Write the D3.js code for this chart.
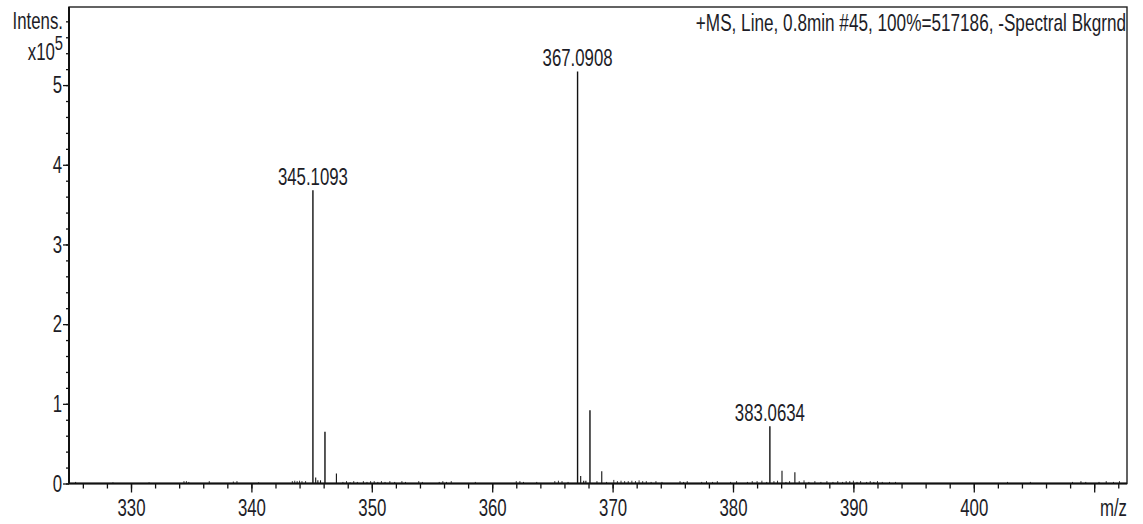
<!DOCTYPE html>
<html>
<head>
<meta charset="utf-8">
<script src="https://cdn.jsdelivr.net/npm/d3@7"></script>
<style>
  html, body { margin: 0; padding: 0; background: #fff; }
  svg { display: block; }
  text { font-family: "Liberation Sans", Arial, sans-serif; fill: #1d1d27; }
</style>
</head>
<body>
<svg id="chart" width="1143" height="524"></svg>
<script>
// Mass spectrum: +MS, 0.8 min scan #45 (intensity in units of 10^5)
const titleText = "+MS, Line, 0.8min #45, 100%=517186, -Spectral Bkgrnd";

// Main and isotope peaks
const peakMz        = [345.1093, 345.34, 345.52, 345.74, 346.11, 347.06,
                       367.0908, 367.35, 367.60, 367.78, 368.12, 369.10,
                       383.0634, 384.07, 385.14];
const peakIntensity = [3.68, 0.075, 0.04, 0.04, 0.65, 0.125,
                       5.17186, 0.095, 0.035, 0.035, 0.92, 0.155,
                       0.72, 0.16, 0.14];

// Annotated peaks
const labelMz     = [345.1093, 367.0908, 383.0634];
const labelText   = ["345.1093", "367.0908", "383.0634"];
const labelHeight = [3.68, 5.17186, 0.72];

// Baseline noise lines
const noiseMz = [325.4, 328.5, 331.5, 334.4, 334.6, 334.8, 336.5, 338.5, 338.8, 340.6,
  343.4, 343.6, 343.8, 344.0, 344.2, 344.5,
  347.6, 347.9, 348.2, 348.5, 348.8, 349.3, 349.6, 349.9, 350.2, 350.5, 350.8, 351.1,
  351.5, 351.9, 352.5, 352.8, 353.9, 354.2, 355.6, 355.9, 356.2, 356.6, 358.6,
  362.0, 362.3, 362.6, 363.7, 365.2, 365.5, 365.8, 366.3,
  368.7, 369.5, 370.1, 370.4, 370.7, 371.0, 371.3, 371.6, 371.9, 372.2, 372.5, 372.8,
  373.2, 373.6, 374.1, 375.6, 375.9, 376.2, 377.4, 377.8, 378.3, 378.7, 379.8, 380.3,
  381.2, 381.6, 382.0, 382.4, 382.8,
  383.4, 383.7, 384.4, 384.7, 385.5, 385.9, 386.3, 386.8, 387.3, 387.8, 388.3, 388.7,
  389.1, 389.4, 389.7, 390.0, 390.3, 390.6, 391.1, 391.4, 391.7, 392.0, 392.4, 393.0,
  393.5, 402.8, 404.7, 408.2, 408.9, 409.3, 410.4, 411.0, 411.6, 412.1];
const noiseIntensity = [0.02, 0.015, 0.015, 0.03, 0.03, 0.02, 0.03, 0.025, 0.03, 0.015,
  0.03, 0.035, 0.03, 0.035, 0.03, 0.03,
  0.02, 0.03, 0.015, 0.03, 0.02, 0.03, 0.02, 0.03, 0.03, 0.02, 0.03, 0.02,
  0.03, 0.02, 0.03, 0.02, 0.03, 0.02, 0.02, 0.03, 0.02, 0.03, 0.02,
  0.03, 0.03, 0.02, 0.02, 0.03, 0.035, 0.03, 0.02,
  0.03, 0.02, 0.045, 0.03, 0.035, 0.03, 0.03, 0.035, 0.03, 0.04, 0.03, 0.03,
  0.02, 0.03, 0.02, 0.03, 0.02, 0.03, 0.02, 0.03, 0.02, 0.03, 0.02, 0.03,
  0.02, 0.03, 0.03, 0.035, 0.02,
  0.03, 0.035, 0.02, 0.03, 0.03, 0.04, 0.02, 0.03, 0.02, 0.03, 0.02, 0.03,
  0.02, 0.03, 0.03, 0.035, 0.02, 0.03, 0.02, 0.03, 0.02, 0.03, 0.02, 0.02,
  0.02, 0.02, 0.02, 0.02, 0.03, 0.02, 0.02, 0.03, 0.02, 0.03];

// Axis ticks
const xMajorTicks  = [330, 340, 350, 360, 370, 380, 390, 400, 410];
const xMajorLabels = ["330", "340", "350", "360", "370", "380", "390", "400", ""];
const xMinorTicks  = d3.range(326, 413, 2);
const yMajorTicks  = [0, 1, 2, 3, 4, 5];
const yMinorTicks  = d3.range(0, 5.81, 0.2);

const FONT = 24, SX = 0.70;
const plotLeft = 69, plotRight = 1127, plotTop = 7, plotBottom = 483.5;

const svg = d3.select("#chart");
svg.append("rect").attr("width", 1143).attr("height", 524).attr("fill", "#fff");

const x = d3.scaleLinear().domain([324.85, 412.85]).range([plotLeft, plotRight + 1.5]);
const y = d3.scaleLinear().domain([0, 5.98]).range([plotBottom, plotTop]);

// Narrow text: scale horizontally around the anchor point
function squeeze(sel) {
  sel.each(function () {
    const t = d3.select(this);
    const tx = +t.attr("x") || 0, ty = +t.attr("y") || 0;
    t.attr("x", null).attr("y", null)
     .attr("transform", `translate(${tx},${ty}) scale(${SX},1)`);
  });
}

// Spectrum lines
const plot = svg.append("g");
plot.selectAll("line.noise")
  .data(d3.zip(noiseMz, noiseIntensity))
  .join("line")
  .attr("class", "noise")
  .attr("x1", d => x(d[0])).attr("x2", d => x(d[0]))
  .attr("y1", y(0)).attr("y2", d => y(d[1]))
  .attr("stroke", "#333").attr("stroke-width", 1);

plot.selectAll("line.peak")
  .data(d3.zip(peakMz, peakIntensity))
  .join("line")
  .attr("class", "peak")
  .attr("x1", d => x(d[0])).attr("x2", d => x(d[0]))
  .attr("y1", y(0)).attr("y2", d => y(d[1]))
  .attr("stroke", "#111").attr("stroke-width", d => d[1] > 0.3 ? 1.4 : 1.1);

// Peak annotations
svg.selectAll("text.peaklabel")
  .data(d3.zip(labelMz, labelHeight, labelText))
  .join("text")
  .attr("class", "peaklabel")
  .attr("text-anchor", "middle")
  .attr("font-size", FONT)
  .attr("transform", d => `translate(${x(d[0])},${y(d[1]) - 5}) scale(${SX},1)`)
  .text(d => d[2]);

// X axis: minor ticks, then major ticks with labels
const xMinor = svg.append("g").attr("transform", `translate(0,${plotBottom})`)
  .call(d3.axisBottom(x).tickValues(xMinorTicks).tickSize(5).tickFormat(""));
const xMajor = svg.append("g").attr("transform", `translate(0,${plotBottom})`)
  .call(d3.axisBottom(x).tickValues(xMajorTicks).tickSize(9).tickPadding(6)
        .tickFormat((d, i) => xMajorLabels[i]));
[xMinor, xMajor].forEach(g => {
  g.select(".domain").remove();
  g.selectAll(".tick line").attr("stroke", "#111").attr("stroke-width", 1.3);
});
xMajor.selectAll("text").attr("font-size", FONT).attr("font-family", null).call(squeeze);

// Y axis
const yMinor = svg.append("g").attr("transform", `translate(${plotLeft},0)`)
  .call(d3.axisLeft(y).tickValues(yMinorTicks).tickSize(3).tickFormat(""));
const yMajor = svg.append("g").attr("transform", `translate(${plotLeft},0)`)
  .call(d3.axisLeft(y).tickValues(yMajorTicks).tickSize(6).tickPadding(1)
        .tickFormat(d3.format("d")));
[yMinor, yMajor].forEach(g => {
  g.select(".domain").remove();
  g.selectAll(".tick line").attr("stroke", "#111").attr("stroke-width", 1.3);
});
yMajor.selectAll("text").attr("font-size", FONT).attr("font-family", null).call(squeeze);

// Frame
svg.append("rect")
  .attr("x", plotLeft).attr("y", plotTop)
  .attr("width", plotRight - plotLeft).attr("height", plotBottom - plotTop)
  .attr("fill", "none").attr("stroke", "#222").attr("stroke-width", 1.4);
svg.append("line")
  .attr("x1", plotLeft).attr("x2", plotRight).attr("y1", plotBottom).attr("y2", plotBottom)
  .attr("stroke", "#111").attr("stroke-width", 2);
svg.append("line")
  .attr("x1", plotLeft).attr("x2", plotLeft).attr("y1", plotTop).attr("y2", plotBottom)
  .attr("stroke", "#111").attr("stroke-width", 2);

// Axis titles
svg.append("text")
  .attr("text-anchor", "end").attr("font-size", FONT)
  .attr("transform", `translate(63,29) scale(${SX},1)`)
  .text("Intens.");
const unit = svg.append("text")
  .attr("text-anchor", "end").attr("font-size", FONT)
  .attr("transform", `translate(63,60) scale(${SX},1)`);
unit.append("tspan").text("x10");
unit.append("tspan").attr("dy", -10).attr("font-size", 21).text("5");

svg.append("text")
  .attr("text-anchor", "end").attr("font-size", FONT)
  .attr("transform", `translate(1127,${plotBottom + 32}) scale(${SX},1)`)
  .text("m/z");

// Spectrum header
svg.append("text")
  .attr("text-anchor", "end").attr("font-size", FONT)
  .attr("transform", `translate(1126,31) scale(0.715,1)`)
  .text(titleText);
</script>
</body>
</html>
